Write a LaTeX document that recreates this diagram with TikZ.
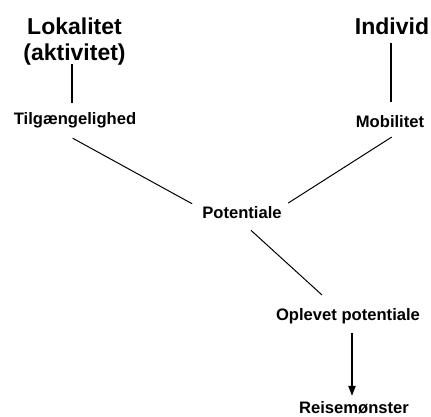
\documentclass[tikz,border=0pt]{standalone}
\usepackage{fontspec}
\setmainfont{Liberation Sans}
\usetikzlibrary{arrows.meta,calc}
\begin{document}
\begin{tikzpicture}[x=1pt,y=1pt,
  title/.style={inner sep=0pt,align=center,font=\fontsize{23}{26}\selectfont\bfseries},
  lbl/.style={inner sep=0pt,anchor=base,font=\fontsize{16.6}{19}\selectfont\bfseries},
  thick line/.style={line width=1.8pt},
  thin line/.style={line width=1pt}]
\useasboundingbox (0,0) rectangle (431,416);
\node[title] (lok) at (74.5,374) {Lokalitet\\(aktivitet)};
\node[title,anchor=base] (ind) at (392,381) {Individ};
\node[lbl] (tilg) at (75,291) {Tilgængelighed};
\node[lbl] (mob) at (390,289) {Mobilitet};
\node[lbl] (pot) at (242,198) {Potentiale};
\node[lbl] (opl) at (348,96) {Oplevet potentiale};
\node[lbl] (reis) at (354,3) {Reisemønster};
\draw[thick line] ($(lok.south)+(-2.5,1.8)$) -- ($(tilg.north)+(-3,9.8)$);
\draw[thick line] ($(ind.south)+(-1,-8)$) -- ($(mob.north)+(1,12.8)$);
\draw[thin line] ($(tilg.south)+(-2.3,-9.5)$) -- ($(pot.north west)+(-10,2)$);
\draw[thin line] ($(mob.south)+(1.7,-9.7)$) -- ($(pot.north east)+(6.3,2.7)$);
\draw[thin line] ($(pot.south)+(9,-12)$) -- ($(opl.north)+(-26,12.8)$);
\draw[thick line,-{Triangle[width=7pt,length=10pt]}] ($(opl.south)+(4,-9.5)$) -- ($(reis.north)+(-2,4.8)$);
\end{tikzpicture}
\end{document}
